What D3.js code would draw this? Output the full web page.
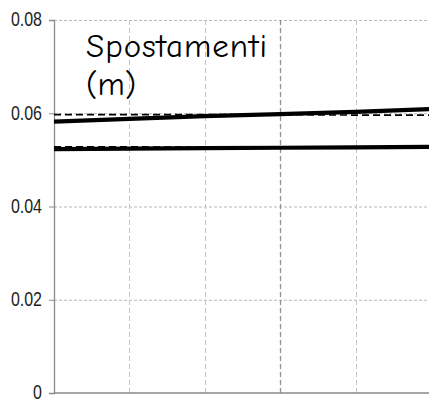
<!DOCTYPE html>
<html>
<head>
<meta charset="utf-8">
<script src="https://d3js.org/d3.v7.min.js"></script>
<style>
  html, body { margin: 0; padding: 0; background: #fff; }
  svg { display: block; }
</style>
</head>
<body>
<svg id="chart" width="429" height="402"></svg>
<script>
// Displacement (m) along the x steps
const steps = [0, 1, 2, 3, 4, 5];
const yTicks = [0, 0.02, 0.04, 0.06, 0.08];
const yTickLabels = ["0", "0.02", "0.04", "0.06", "0.08"];
const upperSolid = [0.0582, 0.0588, 0.0594, 0.0598, 0.0603, 0.0609];
const upperDashed = [0.0597, 0.0597, 0.0597, 0.0597, 0.0596, 0.0596];
const lowerSolid = [0.0523, 0.0524, 0.0525, 0.0526, 0.0527, 0.0528];
const lowerDashed = [0.0528, 0.0528, 0.0527, 0.0527, 0.0527, 0.0527];
const title = ["Spostamenti", "(m)"];

const svg = d3.select("#chart");
const plotLeft = 54, plotRight = 431, plotTop = 20, plotBottom = 393;

const x = d3.scaleLinear().domain([0, 5]).range([plotLeft, plotRight]);
const y = d3.scaleLinear().domain([0, 0.08]).range([plotBottom, plotTop]);

// horizontal grid
svg.append("g")
  .selectAll("line").data(yTicks.slice(1)).join("line")
  .attr("x1", plotLeft).attr("x2", plotRight)
  .attr("y1", d => y(d) + 0.5).attr("y2", d => y(d) + 0.5)
  .attr("stroke", "#b8b8b8").attr("stroke-width", 1)
  .attr("stroke-dasharray", "3,2");

// vertical grid
svg.append("g")
  .selectAll("line").data(steps.slice(1)).join("line")
  .attr("x1", d => Math.round(x(d)) + 0.5).attr("x2", d => Math.round(x(d)) + 0.5)
  .attr("y1", plotTop).attr("y2", plotBottom)
  .attr("stroke", d => d === 3 ? "#909090" : "#c4c4c4")
  .attr("stroke-width", d => d === 3 ? 1.3 : 1)
  .attr("stroke-dasharray", "5,3");

// y axis with condensed tick labels
const squeeze = 0.82;
const yAxis = d3.axisLeft(y).tickValues(yTicks)
  .tickFormat((d, i) => yTickLabels[i]).tickSize(5);
const gy = svg.append("g").attr("transform", `translate(${plotLeft},0)`).call(yAxis);
gy.select(".domain").attr("stroke", "#8a8a8a").attr("stroke-width", 1.3);
gy.selectAll(".tick line").attr("stroke", "#8a8a8a");
gy.selectAll(".tick text")
  .style("font-family", "'Liberation Sans', Arial, sans-serif")
  .style("font-size", "19.5px").attr("fill", "#222")
  .attr("x", -12 / squeeze)
  .attr("dy", "0.3em")
  .attr("transform", `scale(${squeeze},1)`);

// x axis baseline
svg.append("line")
  .attr("x1", plotLeft).attr("x2", plotRight)
  .attr("y1", y(0)).attr("y2", y(0))
  .attr("stroke", "#8a8a8a").attr("stroke-width", 1.5);

const line = d3.line().x((d, i) => x(steps[i])).y(d => y(d));

const series = [
  { values: upperDashed, dash: "7,4", width: 1.6 },
  { values: lowerDashed, dash: "7,4", width: 1.6 },
  { values: upperSolid, dash: null, width: 4.2 },
  { values: lowerSolid, dash: null, width: 4.2 }
];
svg.append("g").selectAll("path").data(series).join("path")
  .attr("d", d => line(d.values))
  .attr("fill", "none").attr("stroke", "#000")
  .attr("stroke-width", d => d.width)
  .attr("stroke-dasharray", d => d.dash);

// title label
svg.append("text")
  .attr("font-family", "'Comic Sans MS', 'Comic Neue', 'DejaVu Sans', sans-serif")
  .attr("font-size", 33).attr("fill", "#000")
  .selectAll("tspan").data(title).join("tspan")
  .attr("x", 86).attr("y", (d, i) => 57 + i * 38)
  .attr("textLength", (d, i) => i === 0 ? 181 : null)
  .attr("lengthAdjust", "spacing")
  .text(d => d);
</script>
</body>
</html>
